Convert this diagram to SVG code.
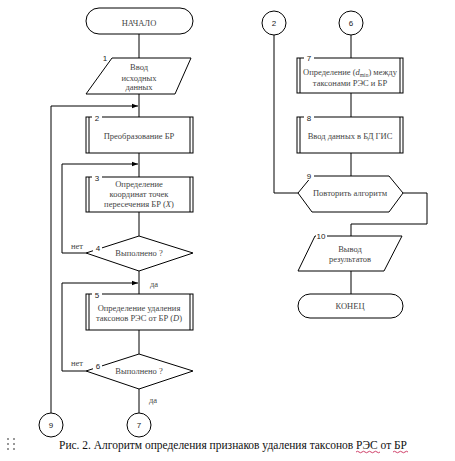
<svg xmlns="http://www.w3.org/2000/svg" width="455" height="461" viewBox="0 0 455 461">
<style>
.s{fill:#fff;stroke:#000;stroke-width:1}
.l{fill:none;stroke:#000;stroke-width:1}
.t{font-family:"Liberation Serif","Times New Roman",serif;font-size:8.5px;fill:#444;text-anchor:middle}
.n{font-family:"Liberation Sans",Arial,sans-serif;font-size:8px;fill:#222;text-anchor:middle}
.w{fill:#fff}
</style>
<defs>
<marker id="a" viewBox="0 0 8 8" refX="8" refY="4" markerWidth="6" markerHeight="6" orient="auto">
<path d="M0,1 L8,4 L0,7 Z" fill="#000"/>
</marker>
</defs>
<rect width="455" height="461" fill="#fff"/>
<g id="connectors">
<path class="l" d="M139,34 V58"/>
<path class="l" d="M139,94 V117"/>
<path class="l" d="M51,413 V106 H138" marker-end="url(#a)"/>
<path class="l" d="M139,153 V177"/>
<path class="l" d="M86,253 H62 V164 H138" marker-end="url(#a)"/>
<path class="l" d="M139,212 V236"/>
<path class="l" d="M139,271 V294"/>
<path class="l" d="M86,371 H62 V283 H138" marker-end="url(#a)"/>
<path class="l" d="M139,330 V354"/>
<path class="l" d="M139,389 V413"/>
<path class="l" d="M351,35 V58"/>
<path class="l" d="M351,93 V117"/>
<path class="l" d="M351,153 V176"/>
<path class="l" d="M298,193 H274 V35"/>
<path class="l" d="M403,193 H427 V224 H351 V236"/>
<path class="l" d="M351,271 V294"/>
<text class="t" x="77" y="249">нет</text>
<text class="t" x="154" y="287">да</text>
<text class="t" x="77" y="366">нет</text>
<text class="t" x="153" y="403">да</text>
</g>
<g id="start">
<rect class="s" x="86" y="8" width="107" height="26" rx="13"/>
<text class="t" x="139" y="26">НАЧАЛО</text>
</g>
<g id="n1">
<path class="s" d="M112,58 H191 L175,94 H86 Z"/>
<rect class="w" x="101" y="54" width="8" height="8"/>
<text class="n" x="105" y="61">1</text>
<text class="t" x="139" y="70">Ввод</text>
<text class="t" x="139" y="81">исходных</text>
<text class="t" x="139" y="90">данных</text>
</g>
<g id="n2">
<rect class="s" x="86" y="117" width="107" height="36"/>
<path class="l" d="M89,117 V153 M190,117 V153"/>
<rect class="w" x="92" y="113" width="10" height="8"/>
<text class="n" x="97" y="121">2</text>
<text class="t" x="139" y="139">Преобразование БР</text>
</g>
<g id="n3">
<rect class="s" x="86" y="177" width="107" height="35"/>
<path class="l" d="M89,177 V212 M190,177 V212"/>
<rect class="w" x="92" y="173" width="10" height="8"/>
<text class="n" x="97" y="181">3</text>
<text class="t" x="139" y="187">Определение</text>
<text class="t" x="139" y="197">координат точек</text>
<text class="t" x="139" y="207">пересечения БР (<tspan font-style="italic">X</tspan>)</text>
</g>
<g id="n4">
<path class="s" d="M139,236 L193,253 L139,271 L86,253 Z"/>
<rect class="w" x="93" y="244" width="9" height="8"/>
<text class="n" x="98" y="251">4</text>
<text class="t" x="139" y="256">Выполнено ?</text>
</g>
<g id="n5">
<rect class="s" x="86" y="294" width="107" height="36"/>
<path class="l" d="M89,294 V330 M190,294 V330"/>
<rect class="w" x="92" y="290" width="10" height="8"/>
<text class="n" x="97" y="298">5</text>
<text class="t" x="139" y="311">Определение удаления</text>
<text class="t" x="139" y="321">таксонов РЭС от БР (<tspan font-style="italic">D</tspan>)</text>
</g>
<g id="n6">
<path class="s" d="M139,354 L193,371 L139,389 L86,371 Z"/>
<rect class="w" x="93" y="362" width="9" height="8"/>
<text class="n" x="98" y="369">6</text>
<text class="t" x="139" y="374">Выполнено ?</text>
</g>
<g id="c9">
<circle class="s" cx="51" cy="425" r="12"/>
<text class="n" x="51" y="428">9</text>
</g>
<g id="c7">
<circle class="s" cx="139" cy="425" r="12"/>
<text class="n" x="139" y="428">7</text>
</g>
<g id="c2">
<circle class="s" cx="274" cy="23" r="12"/>
<text class="n" x="274" y="26">2</text>
</g>
<g id="c6">
<circle class="s" cx="351" cy="23" r="12"/>
<text class="n" x="351" y="26">6</text>
</g>
<g id="n7">
<rect class="s" x="297" y="58" width="106" height="35"/>
<path class="l" d="M300,58 V93 M400,58 V93"/>
<rect class="w" x="304" y="54" width="10" height="8"/>
<text class="n" x="309" y="61">7</text>
<text class="t" x="350" y="75">Определение (<tspan font-style="italic">d</tspan><tspan font-size="5.5" dy="2">min</tspan><tspan dy="-2">) между</tspan></text>
<text class="t" x="350" y="86">таксонами РЭС и БР</text>
</g>
<g id="n8">
<rect class="s" x="297" y="117" width="106" height="36"/>
<path class="l" d="M300,117 V153 M400,117 V153"/>
<rect class="w" x="304" y="113" width="10" height="8"/>
<text class="n" x="309" y="121">8</text>
<text class="t" x="350" y="139">Ввод данных в БД ГИС</text>
</g>
<g id="n9">
<path class="s" d="M298,193 L312,176 H389 L403,193 L389,212 H312 Z"/>
<rect class="w" x="305" y="172" width="9" height="8"/>
<text class="n" x="309" y="179">9</text>
<text class="t" x="350" y="196">Повторить алгоритм</text>
</g>
<g id="n10">
<path class="s" d="M315,236 H402 L384,271 H298 Z"/>
<rect class="w" x="316" y="232" width="11" height="8"/>
<text class="n" x="321" y="239">10</text>
<text class="t" x="350" y="252">Вывод</text>
<text class="t" x="350" y="262">результатов</text>
</g>
<g id="end">
<rect class="s" x="298" y="294" width="105" height="24" rx="12"/>
<text class="t" x="350" y="309">КОНЕЦ</text>
</g>
<g id="caption">
<g fill="#999">
<rect x="7" y="438" width="2" height="2"/><rect x="13" y="438" width="2" height="2"/>
<rect x="7" y="443" width="2" height="2"/><rect x="13" y="443" width="2" height="2"/>
<rect x="7" y="448" width="2" height="2"/><rect x="13" y="448" width="2" height="2"/>
</g>
<text x="59" y="449" font-family="'Liberation Serif','Times New Roman',serif" font-size="12.5" fill="#111" textLength="348" lengthAdjust="spacingAndGlyphs">Рис. 2. Алгоритм определения признаков удаления таксонов РЭС от БР</text>
<path d="M356,452 q1.5,-1.5 3,0 t3,0 t3,0 t3,0 t3,0 t3,0 t3,0 t3,0" fill="none" stroke="#d0416a" stroke-width="1"/>
<path d="M393,452 q1.5,-1.5 3,0 t3,0 t3,0 t3,0 t3,0" fill="none" stroke="#d0416a" stroke-width="1"/>
</g>
</svg>
